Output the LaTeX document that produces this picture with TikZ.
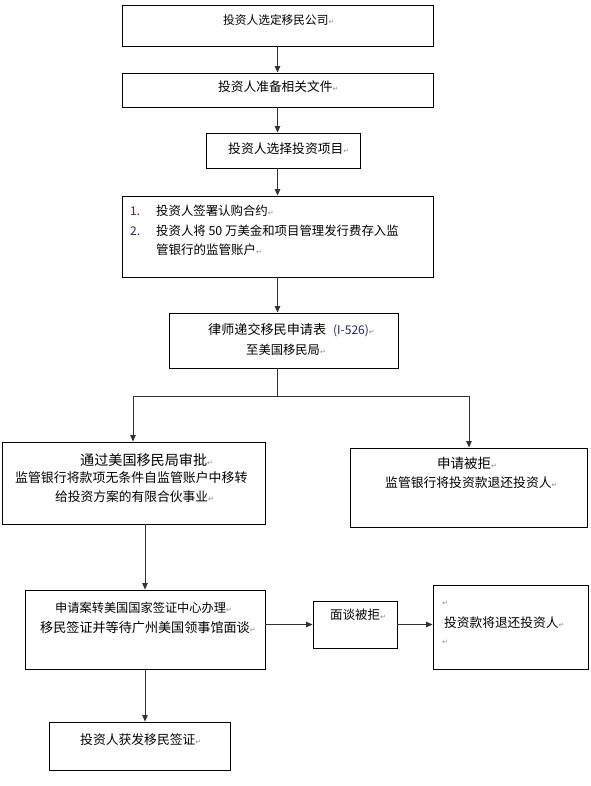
\documentclass[tikz,border=0pt]{standalone}
\usepackage{fontspec}
\usetikzlibrary{arrows.meta}
\newfontfamily\cjk{Noto Sans CJK SC}
\newfontfamily\dejavu{DejaVu Sans}
\newcommand\myfs[1]{\fontsize{#1}{#1}\selectfont}
\newcommand\retmark{{\dejavu\color{black!45}\fontsize{7}{7}\selectfont ↵}}
\definecolor{numred}{RGB}{120,20,40}
\definecolor{numblue}{RGB}{30,40,110}
\begin{document}
\begin{tikzpicture}[x=1pt,y=-1pt,
  box/.style={draw=black, line width=0.9pt, inner sep=0pt, fill=white},
  txt/.style={anchor=west, inner sep=0pt, font=\cjk},
  conn/.style={draw=black!80, line width=0.9pt},
  arr/.style={conn, -{Triangle[width=5.5pt,length=6.5pt]}}]
\useasboundingbox[fill=white] (0,0) rectangle (590,786);
% boxes
\node[box, minimum width=311pt, minimum height=41pt] (b1) at (277.5,25.5) {};
\node[box, minimum width=311pt, minimum height=34pt] (b2) at (277.5,90) {};
\node[box, minimum width=154pt, minimum height=35pt] (b3) at (283,150.5) {};
\node[box, minimum width=311pt, minimum height=81pt] (b4) at (277.5,236.5) {};
\node[box, minimum width=229pt, minimum height=55pt] (b5) at (283.5,340.5) {};
\node[box, minimum width=263pt, minimum height=82pt] (b6) at (133.5,483) {};
\node[box, minimum width=237pt, minimum height=79pt] (b7) at (468.5,487.5) {};
\node[box, minimum width=240pt, minimum height=79pt] (b8) at (145,629.5) {};
\node[box, minimum width=84pt, minimum height=47pt] (b9) at (355,624.5) {};
\node[box, minimum width=155pt, minimum height=84pt] (b10) at (510.5,627) {};
\node[box, minimum width=181pt, minimum height=48pt] (b11) at (139.5,746) {};
% texts
\node[txt] (t1) at (223,20) {\myfs{11.7}投资人选定移民公司\retmark};
\node[txt] (t2) at (218,87) {\myfs{12.7}投资人准备相关文件\retmark};
\node[txt] (t3) at (228,149) {\myfs{12.8}投资人选择投资项目\retmark};
\node[txt] (n41) at (130,211) {\myfs{12}\textcolor{numred}{1.}};
\node[txt] (t41) at (156,211) {\myfs{12.4}投资人签署认购合约\retmark};
\node[txt] (n42) at (130,231) {\myfs{12}\textcolor{numblue}{2.}};
\node[txt] (t42) at (156,231) {\myfs{12.4}投资人将 50 万美金和项目管理发行费存入监};
\node[txt] (t43) at (156,250) {\myfs{12.5}管银行的监管账户\retmark};
\node[txt] (t51) at (208,330) {\myfs{13.1}律师递交移民申请表\hspace{7pt}\myfs{12}\textcolor{numblue}{(I-526)}\retmark};
\node[txt] (t52) at (246,350) {\myfs{12.3}至美国移民局\retmark};
\node[txt] (t61) at (80,460) {\myfs{14.1}通过美国移民局审批\retmark};
\node[txt] (t62) at (15,478) {\myfs{12.9}监管银行将款项无条件自监管账户中移转};
\node[txt] (t63) at (55,497) {\myfs{12.75}给投资方案的有限合伙事业\retmark};
\node[txt] (t71) at (437,463) {\myfs{13.5}申请被拒\retmark};
\node[txt] (t72) at (385,483) {\myfs{12.8}监管银行将投资款退还投资人\retmark};
\node[txt] (t81) at (55,608) {\myfs{12.2}申请案转美国国家签证中心办理\retmark};
\node[txt] (t82) at (40,628) {\myfs{13.1}移民签证并等待广州美国领事馆面谈\retmark};
\node[txt] (t9) at (330,615) {\myfs{12.5}面谈被拒\retmark};
\node[txt] (t101) at (442,603) {\retmark};
\node[txt] (t102) at (444,623) {\myfs{12.7}投资款将退还投资人\retmark};
\node[txt] (t103) at (442,642) {\retmark};
\node[txt] (t11) at (80,740) {\myfs{12.8}投资人获发移民签证\retmark};
% connectors
\coordinate (split) at (277.5,396);
\coordinate (sl) at (133,396);
\coordinate (sr) at (469,396);
\coordinate (d6) at (145,0);
\draw[arr] (b1.south) -- (b2.north);
\draw[arr] (b2.south) -- (b2.south |- b3.north);
\draw[arr] (b4.north |- b3.south) -- (b4.north);
\draw[arr] (b4.south) -- (b4.south |- b5.north);
\draw[conn] (split |- b5.south) -- (split);
\draw[conn] (sl) -- (sr);
\draw[arr] (sl) -- (sl |- b6.north);
\draw[arr] (sr) -- (sr |- b7.north);
\draw[arr] (d6 |- b6.south) -- (d6 |- b8.north);
\draw[arr] (b9.west -| b8.east) -- (b9.west);
\draw[arr] (b9.east) -- (b10.west |- b9.east);
\draw[arr] (d6 |- b8.south) -- (d6 |- b11.north);
\end{tikzpicture}
\end{document}
